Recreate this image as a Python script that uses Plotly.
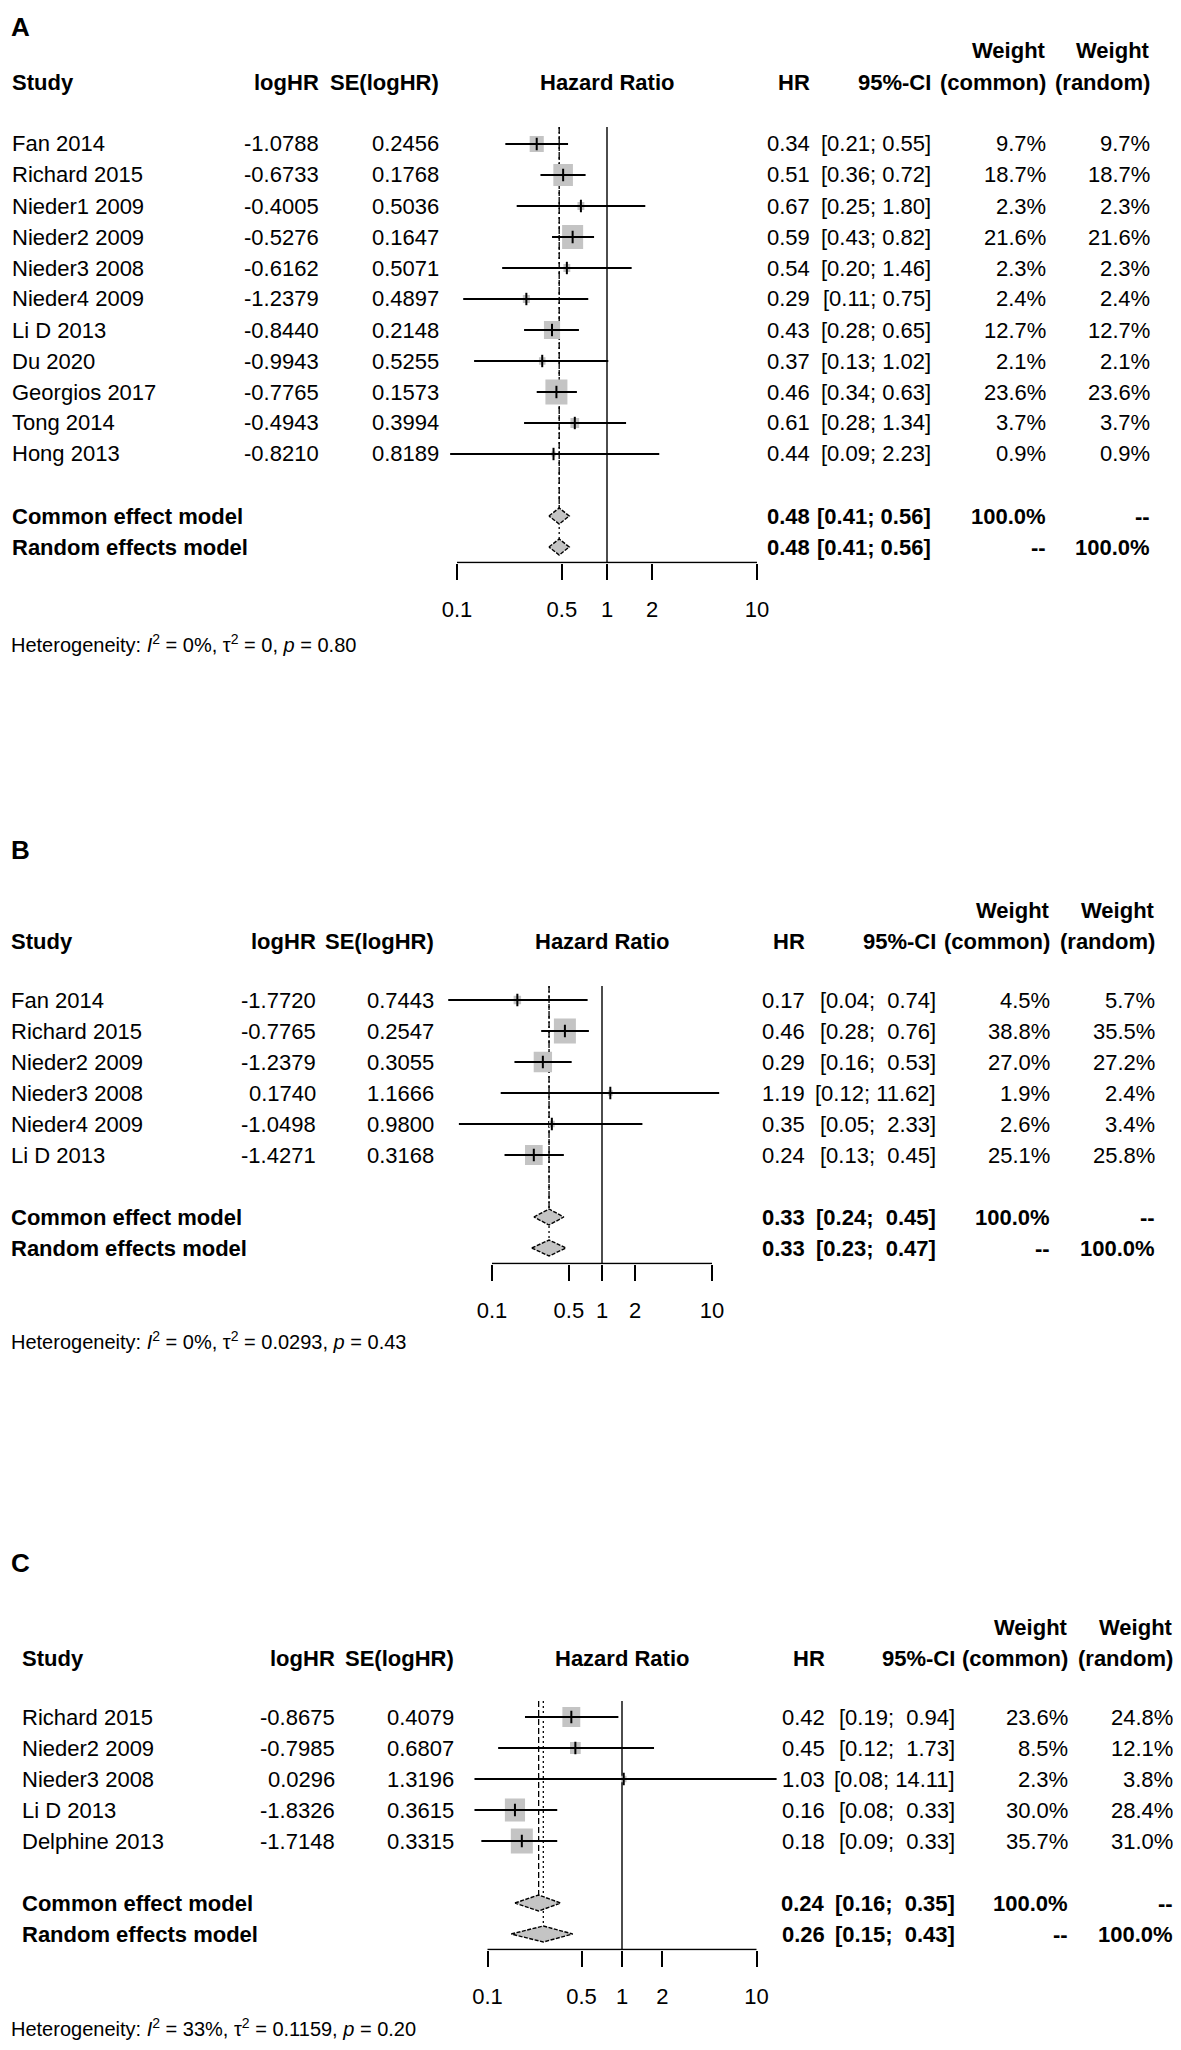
import math
import plotly.graph_objects as go

# page is rendered with an 8px body margin: figure coordinates = page coordinates - 8
OFF = 8
W, H = 1181 - OFF, 2050 - 2 * OFF
FONT = "Liberation Sans, Arial, sans-serif"
FS = 22
BOX_GRAY = "#c4c4c4"


def fx(px):
    return (px - OFF) / W


def fy(py):
    return 1 - (py - OFF) / H


tick_vals = [0.1, 0.5, 1, 2, 10]
tick_text = ["0.1", "0.5", "1", "2", "10"]

# ---------------- Panel A ----------------
a_study = ["Fan 2014", "Richard 2015", "Nieder1 2009", "Nieder2 2009", "Nieder3 2008",
           "Nieder4 2009", "Li D 2013", "Du 2020", "Georgios 2017", "Tong 2014", "Hong 2013"]
a_loghr = [-1.0788, -0.6733, -0.4005, -0.5276, -0.6162, -1.2379, -0.8440, -0.9943, -0.7765, -0.4943, -0.8210]
a_se = [0.2456, 0.1768, 0.5036, 0.1647, 0.5071, 0.4897, 0.2148, 0.5255, 0.1573, 0.3994, 0.8189]
a_hr = [0.34, 0.51, 0.67, 0.59, 0.54, 0.29, 0.43, 0.37, 0.46, 0.61, 0.44]
a_lower = [0.21, 0.36, 0.25, 0.43, 0.20, 0.11, 0.28, 0.13, 0.34, 0.28, 0.09]
a_upper = [0.55, 0.72, 1.80, 0.82, 1.46, 0.75, 0.65, 1.02, 0.63, 1.34, 2.23]
a_w_common = [9.7, 18.7, 2.3, 21.6, 2.3, 2.4, 12.7, 2.1, 23.6, 3.7, 0.9]
a_w_random = [9.7, 18.7, 2.3, 21.6, 2.3, 2.4, 12.7, 2.1, 23.6, 3.7, 0.9]
a_pool_hr = [0.48, 0.48]
a_pool_lower = [0.41, 0.41]
a_pool_upper = [0.56, 0.56]
a_het = ["0%", "0", "0.80"]

# ---------------- Panel B ----------------
b_study = ["Fan 2014", "Richard 2015", "Nieder2 2009", "Nieder3 2008", "Nieder4 2009", "Li D 2013"]
b_loghr = [-1.7720, -0.7765, -1.2379, 0.1740, -1.0498, -1.4271]
b_se = [0.7443, 0.2547, 0.3055, 1.1666, 0.9800, 0.3168]
b_hr = [0.17, 0.46, 0.29, 1.19, 0.35, 0.24]
b_lower = [0.04, 0.28, 0.16, 0.12, 0.05, 0.13]
b_upper = [0.74, 0.76, 0.53, 11.62, 2.33, 0.45]
b_w_common = [4.5, 38.8, 27.0, 1.9, 2.6, 25.1]
b_w_random = [5.7, 35.5, 27.2, 2.4, 3.4, 25.8]
b_pool_hr = [0.33, 0.33]
b_pool_lower = [0.24, 0.23]
b_pool_upper = [0.45, 0.47]
b_het = ["0%", "0.0293", "0.43"]

# ---------------- Panel C ----------------
c_study = ["Richard 2015", "Nieder2 2009", "Nieder3 2008", "Li D 2013", "Delphine 2013"]
c_loghr = [-0.8675, -0.7985, 0.0296, -1.8326, -1.7148]
c_se = [0.4079, 0.6807, 1.3196, 0.3615, 0.3315]
c_hr = [0.42, 0.45, 1.03, 0.16, 0.18]
c_lower = [0.19, 0.12, 0.08, 0.08, 0.09]
c_upper = [0.94, 1.73, 14.11, 0.33, 0.33]
c_w_common = [23.6, 8.5, 2.3, 30.0, 35.7]
c_w_random = [24.8, 12.1, 3.8, 28.4, 31.0]
c_pool_hr = [0.24, 0.26]
c_pool_lower = [0.16, 0.15]
c_pool_upper = [0.35, 0.43]
c_het = ["33%", "0.1159", "0.20"]

pool_labels = ["Common effect model", "Random effects model"]

panels = [
    dict(letter="A", study=a_study, loghr=a_loghr, se=a_se, hr=a_hr, lower=a_lower, upper=a_upper,
         wc=a_w_common, wr=a_w_random, phr=a_pool_hr, plo=a_pool_lower, pup=a_pool_upper, het=a_het,
         y0=144, s=31, x1=607, ppd=150, study_x=10, loghr_x=321, se_x=441, hr_x=812, ci_x=933,
         wc_x=1048, wr_x=1152, het_x=9, het_row=16.1, letter_x=9, letter_row=-3.78,
         header_row=-2.0, top_row=-0.55, dom_l=420, dom_r=800),
    dict(letter="B", study=b_study, loghr=b_loghr, se=b_se, hr=b_hr, lower=b_lower, upper=b_upper,
         wc=b_w_common, wr=b_w_random, phr=b_pool_hr, plo=b_pool_lower, pup=b_pool_upper, het=b_het,
         y0=1000, s=31, x1=602, ppd=110, study_x=9, loghr_x=318, se_x=436, hr_x=807, ci_x=938,
         wc_x=1052, wr_x=1157, het_x=9, het_row=10.97, letter_x=9, letter_row=-4.84,
         header_row=-1.9, top_row=-0.45, dom_l=420, dom_r=800),
    dict(letter="C", study=c_study, loghr=c_loghr, se=c_se, hr=c_hr, lower=c_lower, upper=c_upper,
         wc=c_w_common, wr=c_w_random, phr=c_pool_hr, plo=c_pool_lower, pup=c_pool_upper, het=c_het,
         y0=1717, s=31, x1=622, ppd=134.5, study_x=20, loghr_x=337, se_x=456, hr_x=827, ci_x=957,
         wc_x=1070, wr_x=1175, het_x=9, het_row=10.02, letter_x=9, letter_row=-4.97,
         header_row=-1.9, top_row=-0.52, dom_l=430, dom_r=800),
]

fig = go.Figure()
annotations = []
layout_axes = {}

NB = "\u00a0"


def fmt_ci(lo, hi, width_hi):
    hs = f"{hi:.2f}"
    pad = NB * (width_hi - len(hs))
    return f"[{lo:.2f};{NB}{pad}{hs}]"


for k, p in enumerate(panels):
    idx = "" if k == 0 else str(k + 1)
    xa, ya = "x" + idx, "y" + idx
    s, y0, ppd, x1 = p["s"], p["y0"], p["ppd"], p["x1"]
    n = len(p["study"])
    rows = list(range(n))
    row_c, row_r = n + 1, n + 2
    axis_row = n + 2.5
    top_lim = -1.0

    # axes
    yb = axis_row + 0.03
    dom_y = [fy(y0 + yb * s), fy(y0 + top_lim * s)]
    layout_axes["yaxis" + idx] = dict(domain=dom_y, range=[yb, top_lim], visible=False,
                                      anchor=xa, fixedrange=True)
    layout_axes["xaxis" + idx] = dict(
        type="log", domain=[fx(p["dom_l"]), fx(p["dom_r"])],
        range=[(p["dom_l"] - x1) / ppd, (p["dom_r"] - x1) / ppd],
        anchor=ya, showgrid=False, zeroline=False, showline=False,
        ticks="outside", ticklen=16, tickwidth=1.5, tickcolor="black",
        tickvals=tick_vals, ticktext=tick_text, ticklabelstandoff=10,
        tickfont=dict(family=FONT, size=FS, color="black"), fixedrange=True)

    def add(xs, ys, **kw):
        fig.add_trace(go.Scatter(x=xs, y=ys, xaxis=xa, yaxis=ya, hoverinfo="skip",
                                 showlegend=False, **kw))

    # reference lines
    add([1, 1], [p["top_row"], axis_row], mode="lines", line=dict(color="black", width=1.4))
    dh = 8 / s
    add([p["phr"][1], p["phr"][1]], [p["top_row"], row_r - dh], mode="lines",
        line=dict(color="black", width=1.3, dash="2px,3px"))
    add([p["phr"][0], p["phr"][0]], [p["top_row"], row_c - dh], mode="lines",
        line=dict(color="black", width=1.3, dash="6px,3px"))
    # axis line
    add([tick_vals[0], tick_vals[-1]], [axis_row, axis_row], mode="lines",
        line=dict(color="black", width=1.5))

    # squares (area proportional to common weight)
    wmax = max(p["wc"])
    sx, sy = [], []
    for i, lh, w in zip(rows, p["loghr"], p["wc"]):
        est = math.exp(lh)
        wpx = 22 * math.sqrt(w / wmax)
        hpx = 1.13 * wpx
        hw = wpx / 2 / ppd
        hh = hpx / 2 / s
        lo_x, hi_x = est * 10 ** (-hw), est * 10 ** hw
        sx += [lo_x, hi_x, hi_x, lo_x, lo_x, None]
        sy += [i - hh, i - hh, i + hh, i + hh, i - hh, None]
    add(sx, sy, mode="lines", fill="toself", fillcolor=BOX_GRAY, line=dict(width=0, color=BOX_GRAY))

    # CI lines
    cx, cy = [], []
    for i, lo, hi in zip(rows, p["lower"], p["upper"]):
        cx += [lo, hi, None]
        cy += [i, i, None]
    add(cx, cy, mode="lines", line=dict(color="black", width=1.8))

    # point ticks
    tx, ty = [], []
    for i, lh in zip(rows, p["loghr"]):
        est = math.exp(lh)
        tx += [est, est, None]
        ty += [i - 0.2, i + 0.2, None]
    add(tx, ty, mode="lines", line=dict(color="black", width=2))

    # diamonds
    dx, dy = [], []
    for r, pe, lo, hi in zip([row_c, row_r], p["phr"], p["plo"], p["pup"]):
        dx += [lo, pe, hi, pe, lo, None]
        dy += [r, r - dh, r, r + dh, r, None]
    add(dx, dy, mode="lines", fill="toself", fillcolor=BOX_GRAY,
        line=dict(color="black", width=1.4, dash="4px,1.5px"))

    # ---------------- text ----------------
    def txt(x_px, row, text, anchor="right", bold=False, size=FS, font=FONT):
        y_px = y0 + row * s
        annotations.append(dict(
            x=fx(x_px), xref="paper", y=fy(y_px), yref="paper",
            text=("<b>%s</b>" % text) if bold else text,
            showarrow=False, xanchor=anchor, yanchor="middle",
            font=dict(family=font, size=size, color="black")))

    hr_ = p["header_row"]
    txt(p["study_x"], hr_, "Study", "left", True)
    txt(p["loghr_x"], hr_, "logHR", "right", True)
    txt(p["se_x"], hr_, "SE(logHR)", "right", True)
    txt(x1, hr_, "Hazard Ratio", "center", True)
    txt(p["hr_x"], hr_, "HR", "right", True)
    txt(p["ci_x"], hr_, "95%-CI", "right", True)
    txt(p["wc_x"], hr_, "(common)", "right", True)
    txt(p["wr_x"], hr_, "(random)", "right", True)
    txt(p["wc_x"], hr_ - 1, "Weight", "right", True)
    txt(p["wr_x"], hr_ - 1, "Weight", "right", True)

    width_hi = max(len(f"{v:.2f}") for v in p["upper"] + p["pup"])
    for i in rows:
        txt(p["study_x"], i, p["study"][i], "left")
        txt(p["loghr_x"], i, f"{p['loghr'][i]:.4f}", "right")
        txt(p["se_x"], i, f"{p['se'][i]:.4f}", "right")
        txt(p["hr_x"], i, f"{p['hr'][i]:.2f}", "right")
        txt(p["ci_x"], i, fmt_ci(p["lower"][i], p["upper"][i], width_hi), "right")
        txt(p["wc_x"], i, f"{p['wc'][i]:.1f}%", "right")
        txt(p["wr_x"], i, f"{p['wr'][i]:.1f}%", "right")

    wc_pool = ["100.0%", "--"]
    wr_pool = ["--", "100.0%"]
    for j, r in enumerate([row_c, row_r]):
        txt(p["study_x"], r, pool_labels[j], "left", True)
        txt(p["hr_x"], r, f"{p['phr'][j]:.2f}", "right", True)
        txt(p["ci_x"], r, fmt_ci(p["plo"][j], p["pup"][j], width_hi), "right", True)
        txt(p["wc_x"], r, wc_pool[j], "right", True)
        txt(p["wr_x"], r, wr_pool[j], "right", True)

    i2, t2, pv = p["het"]
    het = (f"Heterogeneity: <i>I</i><sup>2</sup> = {i2}, \u03c4<sup>2</sup> = {t2}, "
           f"<i>p</i> = {pv}")
    txt(p["het_x"], p["het_row"], het, "left", False, 20)
    txt(p["letter_x"], p["letter_row"], p["letter"], "left", True, 26)

fig.update_layout(
    width=W, height=H, margin=dict(l=0, r=0, t=0, b=0),
    paper_bgcolor="white", plot_bgcolor="white", showlegend=False,
    annotations=annotations, **layout_axes)

fig.write_html("out.html")
